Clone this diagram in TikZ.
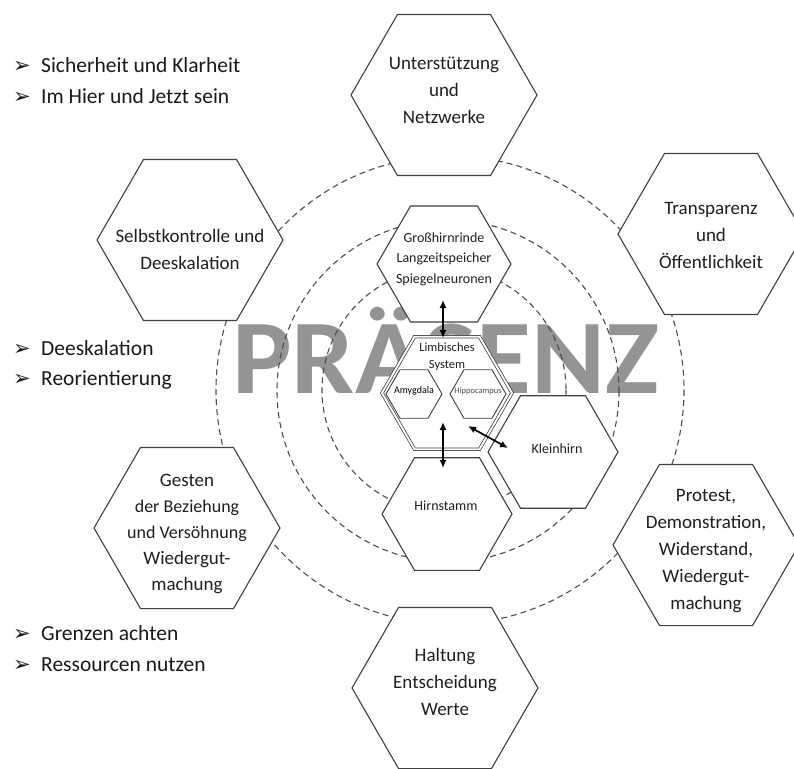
\documentclass[tikz,border=0pt]{standalone}
\usepackage{fontspec}
\setmainfont{Carlito}
\newfontfamily\symfont{DejaVu Sans}
\usetikzlibrary{shapes.geometric,arrows.meta}

\newcommand{\arrowmark}{\makebox[28pt][l]{\raisebox{-0.5pt}{\symfont\fontsize{21}{21}\selectfont ➢}}}

\begin{document}
\begin{tikzpicture}[x=1pt,y=-1pt,
  hexa/.style={regular polygon, regular polygon sides=6, draw=black!75,
    line width=1.1pt, fill=white, inner sep=0pt, minimum size=#1},
  limbic/.style={regular polygon, regular polygon sides=6, draw=black!75,
    line width=0.75pt, double=white, double distance=1.9pt, inner sep=0pt,
    minimum size=#1},
  ring/.style={draw=black!70, line width=1.1pt, dash pattern=on 6pt off 4pt},
  outertext/.style={font=\fontsize{19}{27}\selectfont, align=center, text=black!88, inner sep=0pt},
  innertext/.style={font=\fontsize{14}{20.5}\selectfont, align=center, text=black!88, inner sep=0pt},
  bulletline/.style={anchor=base west, inner sep=0pt, text=black!90,
    font=\fontsize{21.5}{26}\selectfont},
  link/.style={line width=1.7pt, black, {Latex[length=8pt,width=7pt]}-{Latex[length=8pt,width=7pt]}}
]
\useasboundingbox (0,0) rectangle (794,768);
\clip (0,0) rectangle (794,768);

% large background word
\node[anchor=base west, inner sep=0pt, text=black!42,
  font=\fontsize{106}{106}\bfseries\selectfont] (title) at (232,393)
  {\scalebox{1.06}[1]{PRÄSENZ}};

% dashed rings around the brain
\coordinate (core) at (448,390);
\draw[ring] (450,390) circle[radius=234];
\draw[ring] (448,391) circle[radius=171];
\draw[ring] (444,390) circle[radius=122];

% outer fields of action
\node[hexa=186] (support) at (444,95) {};
\node[hexa=186] (control) at (190,240) {};
\node[hexa=186] (transp) at (711,234) {};
\node[hexa=186] (gestures) at (187,528) {};
\node[hexa=186] (protest) at (706,545) {};
\node[hexa=186] (attitude) at (445,688) {};

\node[outertext] (support-t) at (444,90) {Unterstützung\\und\\Netzwerke};
\node[outertext] (control-t) at (190,249) {Selbstkontrolle und\\Deeskalation};
\node[outertext] (transp-t) at (711,235) {Transparenz\\und\\Öffentlichkeit};
\node[outertext, font=\fontsize{19}{26}\selectfont] (gestures-t) at (187,534)
  {Gesten\\{\fontsize{18}{26}\selectfont der Beziehung}\\{\fontsize{18}{26}\selectfont und Versöhnung}\\Wiedergut-\\machung};
\node[outertext] (protest-t) at (706,551) {Protest,\\Demonstration,\\Widerstand,\\Wiedergut-\\machung};
\node[outertext] (attitude-t) at (445,682) {Haltung\\Entscheidung\\Werte};

% brain regions
\node[hexa=134] (cortex) at (444,264) {};
\node[hexa=130] (kleinhirn) at (553,452) {};
\node[hexa=130] (stem) at (447,514) {};
\node[limbic=130, fill=white] (limbic) at (447,393) {};
\node[hexa=56, line width=0.9pt] (amyg) at (414,394) {};
\node[hexa=56, line width=0.9pt] (hippo) at (478,394) {};

\node[innertext] (cortex-t) at (444,259) {Großhirnrinde\\Langzeitspeicher\\Spiegelneuronen};
\node[innertext, font=\fontsize{12.5}{17}\selectfont] (limbic-t) at (447,357) {Limbisches\\System};
\node[inner sep=0pt, text=black, font=\fontsize{10}{10}\selectfont] (amyg-t) at (414,391) {Amygdala};
\node[inner sep=0pt, text=black!70, font=\fontsize{8.5}{8.5}\selectfont] (hippo-t) at (478,391) {Hippocampus};
\node[innertext] (kleinhirn-t) at (557,449) {Kleinhirn};
\node[innertext] (stem-t) at (446,506) {Hirnstamm};

% connections between brain regions
\coordinate (cortex-out) at (443,300);
\coordinate (limbic-top) at (443,338);
\coordinate (limbic-low) at (443,422);
\coordinate (stem-top) at (443,468);
\coordinate (limbic-side) at (468,426);
\coordinate (kleinhirn-in) at (508,448);
\draw[link] (cortex-out) -- (limbic-top);
\draw[link] (limbic-low) -- (stem-top);
\draw[link] (limbic-side) -- (kleinhirn-in);

% bullet lists
\node[bulletline] (b1) at (13,72) {\arrowmark Sicherheit und Klarheit};
\node[bulletline] (b2) at (13,103) {\arrowmark Im Hier und Jetzt sein};
\node[bulletline] (b3) at (13,355) {\arrowmark Deeskalation};
\node[bulletline] (b4) at (13,385) {\arrowmark Reorientierung};
\node[bulletline] (b5) at (13,640) {\arrowmark Grenzen achten};
\node[bulletline] (b6) at (13,671) {\arrowmark Ressourcen nutzen};
\end{tikzpicture}
\end{document}
